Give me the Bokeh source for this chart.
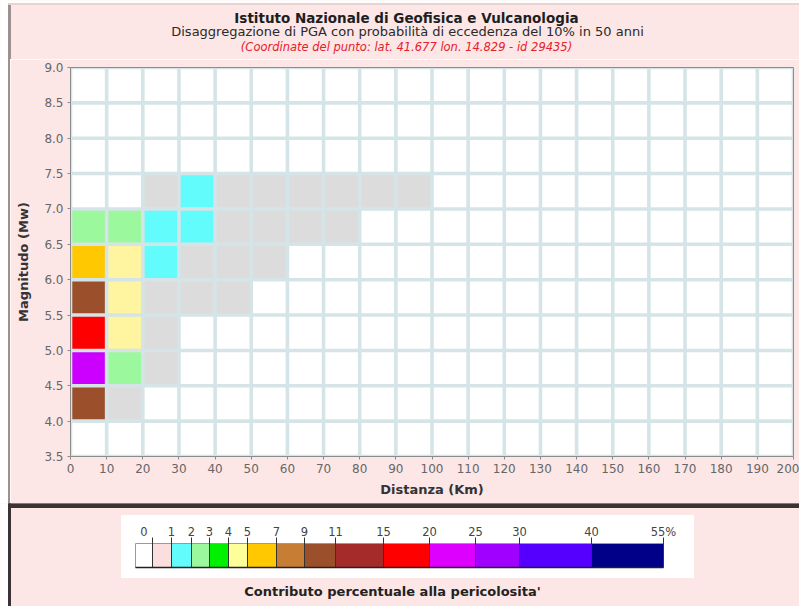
from bokeh.plotting import figure
from bokeh.layouts import column, row
from bokeh.models import Range1d, FixedTicker, Spacer, PrintfTickFormatter, ColumnDataSource
from bokeh.core.properties import value
from bokeh.embed import file_html
from bokeh.resources import INLINE

# ---------------- data ----------------
title_main = "Istituto Nazionale di Geofisica e Vulcanologia"
title_sub = "Disaggregazione di PGA con probabilità di eccedenza del 10% in 50 anni"
title_point = "(Coordinate del punto: lat. 41.677 lon. 14.829 - id 29435)"
x_label = "Distanza (Km)"
y_label = "Magnitudo (Mw)"
legend_title = "Contributo percentuale alla pericolosita'"

dist_edges = [0, 10, 20, 30, 40, 50, 60, 70, 80, 90, 100,
              110, 120, 130, 140, 150, 160, 170, 180, 190, 200]
mag_edges = [3.5, 4.0, 4.5, 5.0, 5.5, 6.0, 6.5, 7.0, 7.5, 8.0, 8.5, 9.0]

# contribution (%) per magnitude bin (lower edge), one value per 10 km distance bin
m3_5 = [0, 0, 0, 0, 0, 0, 0, 0, 0, 0, 0, 0, 0, 0, 0, 0, 0, 0, 0, 0]
m4_0 = [10.0, 0.5, 0, 0, 0, 0, 0, 0, 0, 0, 0, 0, 0, 0, 0, 0, 0, 0, 0, 0]
m4_5 = [22.0, 2.5, 0.4, 0, 0, 0, 0, 0, 0, 0, 0, 0, 0, 0, 0, 0, 0, 0, 0, 0]
m5_0 = [17.0, 4.5, 0.3, 0, 0, 0, 0, 0, 0, 0, 0, 0, 0, 0, 0, 0, 0, 0, 0, 0]
m5_5 = [10.0, 4.3, 0.6, 0.2, 0.05, 0, 0, 0, 0, 0, 0, 0, 0, 0, 0, 0, 0, 0, 0, 0]
m6_0 = [6.0, 4.2, 1.3, 0.5, 0.2, 0.05, 0, 0, 0, 0, 0, 0, 0, 0, 0, 0, 0, 0, 0, 0]
m6_5 = [2.6, 2.2, 1.5, 1.1, 0.5, 0.3, 0.1, 0.04, 0, 0, 0, 0, 0, 0, 0, 0, 0, 0, 0, 0]
m7_0 = [0, 0, 0.5, 1.1, 0.8, 0.5, 0.3, 0.2, 0.1, 0.05, 0, 0, 0, 0, 0, 0, 0, 0, 0, 0]
m7_5 = [0, 0, 0, 0, 0, 0, 0, 0, 0, 0, 0, 0, 0, 0, 0, 0, 0, 0, 0, 0]
m8_0 = [0, 0, 0, 0, 0, 0, 0, 0, 0, 0, 0, 0, 0, 0, 0, 0, 0, 0, 0, 0]
m8_5 = [0, 0, 0, 0, 0, 0, 0, 0, 0, 0, 0, 0, 0, 0, 0, 0, 0, 0, 0, 0]

bin_edges = [0, 1, 2, 3, 4, 5, 7, 9, 11, 15, 20, 25, 30, 40, 55]
legend_labels = ["0", "1", "2", "3", "4", "5", "7", "9", "11", "15", "20", "25", "30", "40", "55%"]
bin_colors = ["#dcdcdc", "#62fcfc", "#9cf89c", "#00f000", "#fff4a0", "#ffc800", "#c87d35",
              "#9c4f2b", "#a52a2a", "#ff0000", "#cc00ff", "#9900ff", "#5500ff", "#000088"]
legend_colors = ["#ffffff", "#fbdede", "#62fcfc", "#9cf89c", "#00f000", "#ffff99", "#ffc800",
                 "#c87d35", "#9c4f2b", "#a52a2a", "#ff0000", "#dd00ff", "#a000ff", "#5500ff", "#000088"]

# ---------------- style / layout constants ----------------
PINK = "#fce6e6"
GAP = "#d5e4e7"
EDGE = "#9c9090"
DARK = "#3b3333"
FONT = value("DejaVu Sans")
legend_seg_px = [17, 19, 20, 18, 19, 19, 29, 28, 31, 48, 46, 46, 44, 72, 72]
LEG_X0 = 135


def color_for(v):
    if v <= 0:
        return "#ffffff"
    for i in range(len(bin_edges) - 1):
        if bin_edges[i] <= v < bin_edges[i + 1]:
            return bin_colors[i]
    return bin_colors[-1]


# ---------------- header (page pixel coordinates) ----------------
h = figure(width=799, height=59, x_range=Range1d(0, 799), y_range=Range1d(59, 0),
           x_axis_type=None, y_axis_type=None, min_border=0,
           toolbar_location=None, output_backend="svg")
h.background_fill_color = PINK
h.border_fill_color = PINK
h.outline_line_color = None
h.grid.grid_line_color = None
h.quad(left=[0], right=[799], top=[0], bottom=[3], color="#ffffff")
h.quad(left=[0], right=[8], top=[0], bottom=[59], color="#ffffff")
h.quad(left=[8], right=[10], top=[3], bottom=[59], color=EDGE)
h.quad(left=[8], right=[799], top=[3], bottom=[4], color="#e8d2d2")
h.text(x=[406], y=[17], text=[title_main], text_align="center", text_baseline="middle",
       text_font=FONT, text_font_style="bold", text_font_size="13.5px", text_color="#1e1e1e")
h.text(x=[407], y=[31], text=[title_sub], text_align="center", text_baseline="middle",
       text_font=FONT, text_font_size="13px", text_color="#2a2a2a")
h.text(x=[406], y=[46], text=[title_point], text_align="center", text_baseline="middle",
       text_font=FONT, text_font_style="italic", text_font_size="11.5px", text_color="#e8202a")

# ---------------- main chart ----------------
p = figure(width=789, height=444, x_range=Range1d(0, 200), y_range=Range1d(3.5, 9.0),
           toolbar_location=None, output_backend="svg",
           min_border_left=60, min_border_right=6, min_border_top=8, min_border_bottom=47)
p.background_fill_color = GAP
p.border_fill_color = PINK
p.outline_line_color = "#8c8c8c"
p.grid.grid_line_color = None

rows = [m3_5, m4_0, m4_5, m5_0, m5_5, m6_0, m6_5, m7_0, m7_5, m8_0, m8_5]
xs, ys, cols, vals = [], [], [], []
for j, r in enumerate(rows):
    yc = (mag_edges[j] + mag_edges[j + 1]) / 2
    for i, v in enumerate(r):
        xs.append((dist_edges[i] + dist_edges[i + 1]) / 2)
        ys.append(yc)
        cols.append(color_for(v))
        vals.append(v)
src = ColumnDataSource(dict(x=xs, y=ys, c=cols, v=vals))
p.rect(x="x", y="y", width=9.0, height=0.45, fill_color="c", line_color=None, source=src)

p.xaxis.ticker = FixedTicker(ticks=dist_edges)
p.yaxis.ticker = FixedTicker(ticks=mag_edges)
p.yaxis.formatter = PrintfTickFormatter(format="%.1f")
p.xaxis.axis_label = x_label
p.yaxis.axis_label = y_label
for ax in (p.xaxis, p.yaxis):
    ax.axis_line_color = None
    ax.major_tick_line_color = "#8c8c8c"
    ax.major_tick_out = 3
    ax.major_tick_in = 0
    ax.minor_tick_line_color = None
    ax.major_label_text_font = "DejaVu Sans"
    ax.major_label_text_font_size = "12px"
    ax.major_label_text_color = "#666666"
    ax.major_label_standoff = 4
    ax.axis_label_text_font = "DejaVu Sans"
    ax.axis_label_text_font_size = "13px"
    ax.axis_label_text_font_style = "bold"
    ax.axis_label_text_color = "#333333"
p.xaxis.axis_label_standoff = 6
p.yaxis.axis_label_standoff = 10

white_margin = Spacer(width=8, height=444)
side = Spacer(width=2, height=444, styles={"background-color": EDGE})

# ---------------- legend panel (page pixel coordinates) ----------------
b = figure(width=799, height=103, x_range=Range1d(0, 799), y_range=Range1d(606, 503),
           x_axis_type=None, y_axis_type=None, min_border=0,
           toolbar_location=None, output_backend="svg")
b.background_fill_color = PINK
b.border_fill_color = PINK
b.outline_line_color = None
b.grid.grid_line_color = None
b.quad(left=[0], right=[8], top=[503], bottom=[606], color="#ffffff")
b.quad(left=[8], right=[799], top=[503], bottom=[507], color=DARK)
b.quad(left=[8], right=[10], top=[503], bottom=[606], color=DARK)
b.quad(left=[121], right=[693], top=[515], bottom=[577], color="#ffffff")

bounds = [LEG_X0]
for w in legend_seg_px:
    bounds.append(bounds[-1] + w)
b.quad(left=bounds[:-1], right=bounds[1:], top=[543] * len(legend_seg_px),
       bottom=[567] * len(legend_seg_px), fill_color=legend_colors, line_color=None)
b.quad(left=[bounds[0]], right=[bounds[-1]], top=[543], bottom=[567],
       fill_color=None, line_color="#9a9a9a", line_width=1)
b.segment(x0=bounds[1:], y0=[537] * (len(bounds) - 1), x1=bounds[1:], y1=[567] * (len(bounds) - 1),
          line_color="#333333", line_width=1)
b.segment(x0=[bounds[0]], y0=[567], x1=[bounds[-1]], y1=[567], line_color="#222222", line_width=1.5)
label_x = [(bounds[0] + bounds[1]) / 2] + bounds[2:]
b.text(x=label_x, y=[531] * len(label_x), text=legend_labels, text_align="center",
       text_baseline="middle", text_font=FONT, text_font_size="11.5px", text_color="#444444")
b.text(x=[392], y=[591], text=[legend_title], text_align="center", text_baseline="middle",
       text_font=FONT, text_font_style="bold", text_font_size="13px", text_color="#222222")

layout = column(h, row(white_margin, side, p), b)
open("out.html", "w").write(file_html(layout, INLINE))
